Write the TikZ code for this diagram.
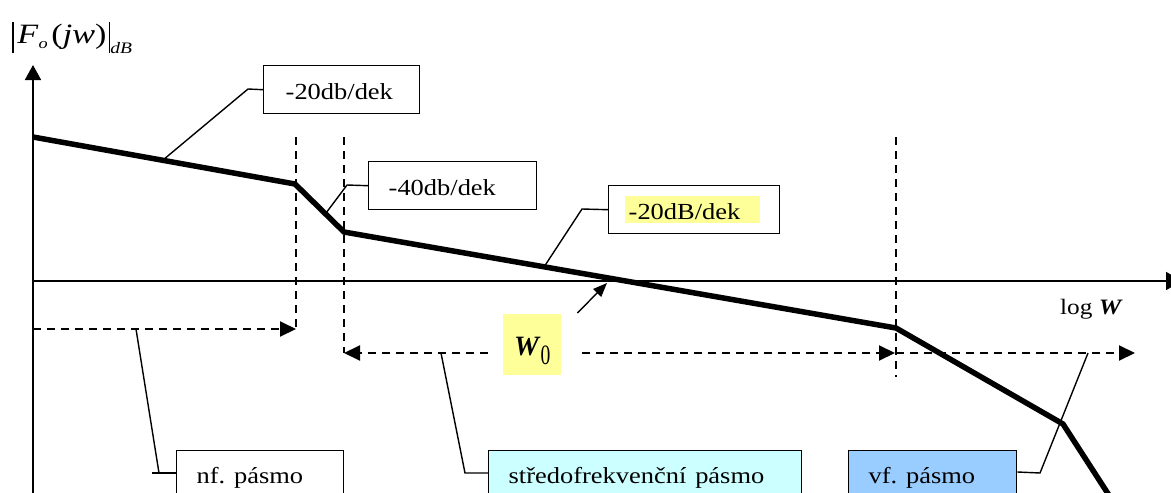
\documentclass[tikz,border=0pt]{standalone}
\usepackage{fontspec}
\setmainfont{Liberation Serif}
\usetikzlibrary{arrows.meta}
\definecolor{hl}{HTML}{FFFF99}
\definecolor{sfc}{HTML}{CCFFFF}
\definecolor{vfc}{HTML}{99CCFF}
\newcommand{\hx}[1]{\scalebox{1.15}[1]{#1}}
\frenchspacing
\tikzset{
 bode/.style={line width=5.5pt, line join=miter},
 axisline/.style={line width=1.8pt},
 lead/.style={line width=1.4pt},
 dsh/.style={line width=2pt, dash pattern=on 8pt off 6pt},
 bigtip/.style={-{Triangle[length=16pt,width=15pt]}},
 lbox/.style={draw, line width=1.4pt, anchor=north west, inner ysep=0pt, minimum height=48pt, text height=21pt, text depth=1pt, align=left, font=\fontsize{23}{27}\selectfont},
 bbox/.style={draw, line width=1.4pt, anchor=north west, inner ysep=12pt, text height=21pt, text depth=60pt, inner xsep=20pt, align=left, font=\fontsize{23}{27}\selectfont},
}
\begin{document}
\begin{tikzpicture}[x=1pt,y=-1pt]
\useasboundingbox (0,0) rectangle (1171,493);
\clip (0,0) rectangle (1171,493);
% axes
\coordinate (ybot) at (33,500);
\coordinate (ytop) at (33,65);
\coordinate (o) at (33,281);
\coordinate (xend) at (1182,281);
\draw[axisline, -{Triangle[length=15pt,width=16pt]}] (ybot) -- (ytop);
\draw[axisline, -{Triangle[length=16pt,width=18pt]}] (o) -- (xend);
% vertical dashed lines
\coordinate (v1t) at (296,137); \coordinate (v1b) at (296,329);
\coordinate (v2t) at (344,137); \coordinate (v2b) at (344,353);
\coordinate (v3t) at (896,137); \coordinate (v3b) at (896,377);
\draw[dsh] (v1t) -- (v1b);
\draw[dsh] (v2t) -- (v2b);
\draw[dsh] (v3t) -- (v3b);
% bode curve
\coordinate (p0) at (33,137);
\coordinate (p1) at (295,184);
\coordinate (p2) at (344,232);
\coordinate (p3) at (896,328);
\coordinate (p4) at (1063,424);
\coordinate (p5) at (1125,520);
\draw[bode] (p0) -- (p1) -- (p2) -- (p3) -- (p4) -- (p5);
% label boxes top
\node[lbox, inner xsep=22pt, text width=112pt] (b1) at (263,65) {\hx{-20db/dek}};
\node[lbox, inner xsep=20pt, text width=128pt] (b2) at (368,161) {\hx{-40db/dek}};
\node[lbox, inner xsep=16pt, text width=139pt] (b3) at (608,185) {{\setlength{\fboxsep}{0pt}\colorbox{hl}{\rule[-3pt]{0pt}{27pt}\makebox[135pt][l]{\hspace{4pt}\hx{-20dB/dek}}}}};
% leaders top
\coordinate (l1a) at (163,160); \coordinate (l1b) at (248,89);
\draw[lead] (l1a) -- (l1b) -- (b1.west);
\coordinate (l2a) at (326,213); \coordinate (l2b) at (347,185);
\draw[lead] (l2a) -- (l2b) -- (b2.west);
\coordinate (l3a) at (544,267); \coordinate (l3b) at (582,209);
\draw[lead] (l3a) -- (l3b) -- (b3.west);
% bottom boxes
\node[bbox, text width=127pt] (nf) at (176,450) {\hx{nf. pásmo}};
\node[bbox, fill=sfc, text width=273pt] (sf) at (488,450) {\hx{středofrekvenční pásmo}};
\node[bbox, fill=vfc, text width=128pt] (vf) at (848,450) {\hx{vf. pásmo}};
% W0
\node[fill=hl, anchor=north west, inner sep=0pt, minimum width=58pt, text height=41pt, text depth=20pt, font=\fontsize{28}{28}\selectfont] (w0) at (503,314) {\textbf{\textit{W}}\raisebox{-9pt}{\scalebox{0.7}[1]{0}}};
\coordinate (w0tip) at (607,283);
\draw[lead, -{Triangle[length=14pt,width=11pt]}] ([shift={(16pt,1pt)}]w0.north east) -- (w0tip);
% band arrows
\coordinate (nfL) at (33,329);
\draw[dsh, bigtip] (nfL) -- (v1b);
\coordinate (midR) at (895,353);
\draw[dsh, bigtip] ([xshift=-15pt]w0.west |- v2b) -- (v2b);
\draw[dsh, bigtip] ([xshift=21pt]w0.east |- v2b) -- (midR);
\coordinate (vfS) at (896,353);
\coordinate (vfE) at (1135,353);
\draw[dsh, bigtip] (vfS) -- (vfE);
% bottom leaders
\coordinate (n1) at (136,329); \coordinate (n2) at (159,473); \coordinate (n3) at (152,473);
\draw[lead] (n1) -- (n2);
\draw[lead] (n3) -- ([yshift=-23pt]nf.north west);
\coordinate (s1) at (441,353); \coordinate (s2) at (465,473);
\draw[lead] (s1) -- (s2) -- ([yshift=-23pt]sf.north west);
\coordinate (f1) at (1088,353); \coordinate (f2) at (1040,473);
\draw[lead] (f1) -- (f2) -- ([yshift=-22pt]vf.north east);
% axis labels
\node[anchor=base west, inner sep=0pt, font=\fontsize{28}{28}\selectfont] (ylab) at (12,43) {\scalebox{1.22}[1]{\rule[-10pt]{1.3pt}{31pt}\hspace{3pt}\textit{F}\raisebox{-5pt}{\fontsize{15}{15}\selectfont\textit{o}}\hspace{3pt}(\textit{jw})\hspace{2pt}\rule[-10pt]{1.3pt}{31pt}\raisebox{-10pt}{\fontsize{16}{16}\selectfont\textit{dB}}}};
\node[anchor=base west, inner sep=0pt, font=\fontsize{22}{24}\selectfont] (xlab) at (1060,314) {\hx{log\ \textbf{\textit{W}}}};
\end{tikzpicture}
\end{document}
